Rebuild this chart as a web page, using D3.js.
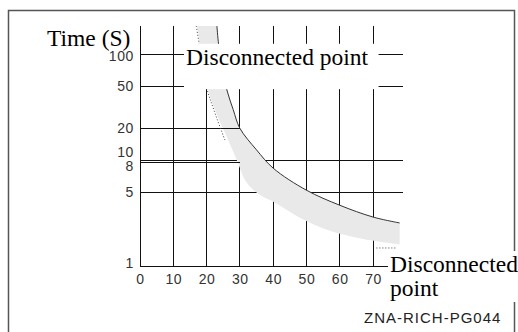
<!DOCTYPE html>
<meta charset="utf-8">
<style>
  body { margin: 0; background: #fff; }
  .grid line { stroke: #111; stroke-width: 1; shape-rendering: crispEdges; }
  .axis text { font: 14px "Liberation Sans", Arial, sans-serif; fill: #333; letter-spacing: 0.6px; }
  .serif { font-family: "Liberation Serif", "Times New Roman", serif; font-size: 23.5px; fill: #000; }
</style>
<body>
<script src="https://d3js.org/d3.v7.min.js"></script>
<script>
// axis ticks
var xTicks = [0, 10, 20, 30, 40, 50, 60, 70];
var yTicks = [1, 5, 8, 10, 20, 50, 100];
// horizontal lines across the whole grid, and the short ones that stop at 30
var fullGridT = [5, 10, 50, 100];
var shortGridT = [20, 9.5];
var shortGridEnd = 30;

// upper edge of the band (solid curve)
var upperX = [23.1, 23.6, 24.6, 26.1, 28, 30, 35, 40, 50, 60, 70, 78];
var upperT = [185, 125, 80, 46, 30, 20, 12.5, 8.4, 5.2, 3.75, 2.9, 2.55];
// lower edge of the band
var lowerX = [17.1, 18.5, 20.2, 22.5, 26.1, 29.1, 32.1, 36, 40.6, 48, 57, 67, 78];
var lowerT = [185, 100, 50, 29.7, 16.5, 10, 6.1, 4.7, 3.95, 2.85, 2.15, 1.8, 1.6];
// dotted pieces
var dotTopX = [16.9, 18.3, 19.9, 22.2, 25.5];
var dotTopT = [185, 100, 50, 29.7, 15.5];
var dotEndX = [71, 77];
var dotEndT = [1.48, 1.48];

var W = 518, H = 332;
var svg = d3.select("body").append("svg").attr("width", W).attr("height", H);

var x = d3.scaleLinear().domain([0, 79]).range([140, 403]);
var y = d3.scaleLog().domain([1, 185]).range([266, 26]);

// outer frame
svg.append("rect")
    .attr("x", 8.5).attr("y", 10.5)
    .attr("width", 506).attr("height", 340)
    .attr("fill", "none").attr("stroke", "#555").attr("stroke-width", 1.5);

var grid = svg.append("g").attr("class", "grid");
grid.selectAll(".v").data(xTicks.slice(1)).enter().append("line")
    .attr("x1", d => x(d)).attr("x2", d => x(d))
    .attr("y1", y(185)).attr("y2", y(1));
grid.selectAll(".h").data(fullGridT).enter().append("line")
    .attr("x1", x(0)).attr("x2", x(79))
    .attr("y1", d => y(d)).attr("y2", d => y(d));

// band
var pts = function(xs, ts) { return xs.map((v, i) => [x(v), y(ts[i])]); };
var line = d3.line().curve(d3.curveCatmullRom.alpha(0.5));
var up = pts(upperX, upperT), lo = pts(lowerX, lowerT).reverse();
svg.append("path")
    .attr("d", line(up) + "L" + line(lo).slice(1) + "Z")
    .attr("fill", "#e9e9e9");

var grid2 = svg.append("g").attr("class", "grid");
grid2.selectAll("line").data(shortGridT).enter().append("line")
    .attr("x1", x(0)).attr("x2", x(shortGridEnd))
    .attr("y1", d => y(d)).attr("y2", d => y(d));
// axes lines
grid2.append("line").attr("x1", x(0)).attr("x2", x(0)).attr("y1", y(185)).attr("y2", y(1));
grid2.append("line").attr("x1", x(0)).attr("x2", x(74.5)).attr("y1", y(1)).attr("y2", y(1));

svg.append("path").attr("d", line(up))
    .attr("fill", "none").attr("stroke", "#333").attr("stroke-width", 1);
svg.append("path").attr("d", line(pts(dotTopX, dotTopT)))
    .attr("fill", "none").attr("stroke", "#444").attr("stroke-dasharray", "1,2");
svg.append("path").attr("d", line(pts(dotEndX, dotEndT)))
    .attr("fill", "none").attr("stroke", "#444").attr("stroke-dasharray", "1,2");

// tick labels
var nudge = {100: 2, 10: -8, 8: -4, 1: -3};
svg.append("g").attr("class", "axis")
    .attr("transform", "translate(" + x(0) + ",0)")
    .call(d3.axisLeft(y).tickValues(yTicks).tickFormat(d => d).tickSize(0).tickPadding(6))
    .call(g => g.select(".domain").remove())
    .selectAll("text").attr("y", d => nudge[d] || 0);
svg.append("g").attr("class", "axis")
    .attr("transform", "translate(0," + y(1) + ")")
    .call(d3.axisBottom(x).tickValues(xTicks).tickSize(0).tickPadding(8))
    .call(g => g.select(".domain").remove());

// title
svg.append("text").attr("class", "serif")
    .attr("x", 47).attr("y", 46).text("Time (S)");

// top label on white box
var topLab = svg.append("g");
var tt = topLab.append("text").attr("class", "serif")
    .attr("x", 186).attr("y", y(100) + 10.5).text("Disconnected point");
var b = tt.node().getBBox();
topLab.insert("rect", "text")
    .attr("x", b.x - 2).attr("y", b.y)
    .attr("width", b.width + 12).attr("height", y(50) + 3 - b.y)
    .attr("fill", "#fff");

// bottom-right label
var botLab = svg.append("g");
var bt = botLab.append("text").attr("class", "serif");
bt.append("tspan").attr("x", x(74.5) + 2).attr("y", y(1) + 6).text("Disconnected");
bt.append("tspan").attr("x", x(74.5) + 2).attr("y", y(1) + 30).text("point");
var bb = bt.node().getBBox();
botLab.insert("rect", "text")
    .attr("x", bb.x - 1).attr("y", bb.y)
    .attr("width", W - bb.x + 1).attr("height", bb.height + 1)
    .attr("fill", "#fff");

// footer
svg.append("text")
    .attr("x", 364).attr("y", 323)
    .style("font", "15px 'Liberation Sans', Arial, sans-serif")
    .style("letter-spacing", "1px")
    .attr("fill", "#222")
    .text("ZNA-RICH-PG044");
</script>
</body>
